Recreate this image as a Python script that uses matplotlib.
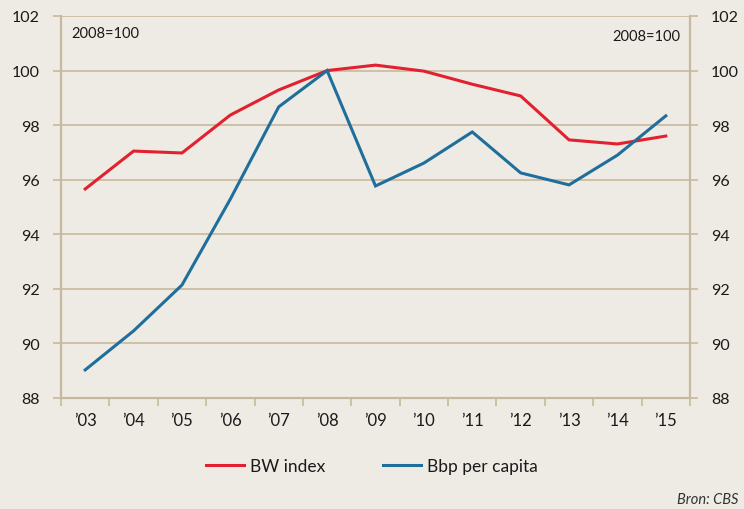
import matplotlib.pyplot as plt
from matplotlib.ticker import FixedLocator, NullFormatter
from matplotlib.lines import Line2D

plt.rcParams['font.family'] = ['Lato', 'DejaVu Sans']

years = ["\u201903", "\u201904", "\u201905", "\u201906", "\u201907", "\u201908", "\u201909",
         "\u201910", "\u201911", "\u201912", "\u201913", "\u201914", "\u201915"]
bw_index = [95.66, 97.05, 96.98, 98.37, 99.29, 100.0, 100.2, 99.98, 99.5, 99.07, 97.46, 97.31, 97.6]
bbp_per_capita = [89.03, 90.46, 92.14, 95.29, 98.67, 100.0, 95.77, 96.61, 97.75, 96.25, 95.81, 96.9, 98.34]
y_ticks = [88, 90, 92, 94, 96, 98, 100, 102]

bg = "#eeebe4"
tan = "#c8b99c"
red = "#e2202f"
blue = "#1f6e9b"
txt = "#1a1a1a"

fig = plt.figure(figsize=(7.44, 5.10), dpi=100, facecolor=bg)
ax = fig.add_axes([61 / 744, 1 - 399 / 510, 629 / 744, 382 / 510], facecolor=bg)

x = list(range(len(years)))
ax.plot(x, bw_index, color=red, lw=2.2, solid_joinstyle="miter")
ax.plot(x, bbp_per_capita, color=blue, lw=2.2, solid_joinstyle="miter")

ax.set_xlim(-0.5, len(years) - 0.5)
ax.set_ylim(88, 102)

# y axis, both sides
ax.set_yticks(y_ticks)
ax.set_yticklabels([str(v) for v in y_ticks])
ax.yaxis.grid(True, color=tan, lw=1.2)
ax.set_axisbelow(True)
ax.tick_params(axis="y", which="both", left=True, right=True, labelleft=True, labelright=True,
               length=6, width=1.2, color=tan, direction="out", pad=9,
               labelsize=11.5, labelcolor=txt)

# x axis: ticks on band boundaries, labels at centres
ax.xaxis.set_major_locator(FixedLocator([i - 0.5 for i in range(len(years) + 1)]))
ax.xaxis.set_major_formatter(NullFormatter())
ax.xaxis.set_minor_locator(FixedLocator(x))
ax.set_xticklabels(years, minor=True)
ax.tick_params(axis="x", which="major", length=6, width=1.2, color=tan, direction="out")
ax.tick_params(axis="x", which="minor", length=0, pad=10, labelsize=12, labelcolor=txt)

for side in ["left", "right", "bottom"]:
    ax.spines[side].set_color(tan)
    ax.spines[side].set_linewidth(1.6)
ax.spines["top"].set_visible(False)

ax.text(0.016, 0.975, "2008=100", transform=ax.transAxes, ha="left", va="top",
        fontsize=10.5, color=txt)
ax.text(0.984, 0.965, "2008=100", transform=ax.transAxes, ha="right", va="top",
        fontsize=10.5, color=txt)

handles = [Line2D([], [], color=red, lw=2.2), Line2D([], [], color=blue, lw=2.2)]
fig.legend(handles, ["BW index", "Bbp per capita"], loc="center left",
           bbox_to_anchor=(206 / 744, 1 - 467 / 510), ncol=2, frameon=False,
           borderpad=0, borderaxespad=0,
           fontsize=12.5, handlelength=2.2, handletextpad=0.35, columnspacing=3.3,
           labelcolor=txt)

fig.text(0.992, 1 - 500 / 510, "Bron: CBS", ha="right", va="center",
         fontsize=10.5, style="italic", color="#333333")

fig.savefig("out.png", dpi=100, facecolor=bg)
